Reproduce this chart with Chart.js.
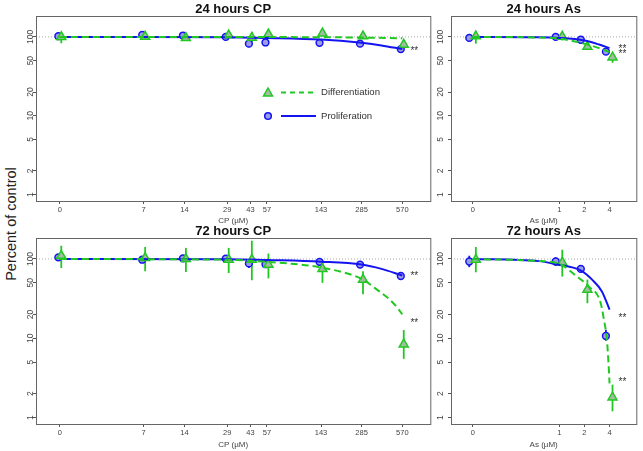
<!DOCTYPE html>
<html>
<head>
<meta charset="utf-8">
<script src="https://cdn.jsdelivr.net/npm/chart.js@4.4.0/dist/chart.umd.min.js"></script>
<style>
  body { margin: 0; background: #fff; width: 643px; height: 451px; position: relative; overflow: hidden;
         font-family: "Liberation Sans", Arial, sans-serif; }
  canvas { position: absolute; }
  #ylab { position: absolute; left: 11px; top: 224px; transform: translate(-50%, -50%) rotate(-90deg);
          font-size: 14.5px; white-space: nowrap; color: #222; }
</style>
</head>
<body>
<div id="ylab">Percent of control</div>
<canvas id="c1" width="437" height="226" style="left:0;top:0"></canvas>
<canvas id="c2" width="210" height="226" style="left:433px;top:0"></canvas>
<canvas id="c3" width="437" height="233" style="left:0;top:218px"></canvas>
<canvas id="c4" width="210" height="233" style="left:433px;top:218px"></canvas>
<script>
// doses and axis ticks
const cpDoses = [0, 7, 14, 29, 43, 57, 143, 285, 570];
const asDoses = [0, 1, 2, 4];
const yTicks = [1, 2, 5, 10, 20, 50, 100];

// 24 hours CP
const cp24Prolif   = [102, 106, 104, 100, 82, 85, 84, 82, 70];
const cp24ProlifLo = [99, 103, 101, 97, 74, 82, 81, 79, 67];
const cp24ProlifHi = [105, 109, 107, 103, 88, 88, 87, 85, 73];
const cp24Diff     = [100, 101, 97, 105, 98, 108, 111, 102, 80];
const cp24DiffLo   = [83, 95, 92, 100, 86, 103, 106, 97, 75];
const cp24DiffHi   = [108, 106, 102, 110, 116, 113, 116, 107, 85];
const cp24ProlifFitX = [0, 7, 29, 57, 143, 285, 400, 570];
const cp24ProlifFitY = [100, 100, 99, 97, 92.5, 84, 78, 70];
const cp24DiffFitX = [0, 57, 143, 285, 570];
const cp24DiffFitY = [100, 99.5, 99, 98, 96];

// 24 hours As
const as24Prolif   = [97, 100, 92, 65];
const as24ProlifLo = [93, 96, 88, 61];
const as24ProlifHi = [101, 104, 96, 69];
const as24Diff     = [102, 101, 75, 55];
const as24DiffLo   = [82, 90, 68, 47];
const as24DiffHi   = [116, 110, 82, 62];
const as24ProlifFitX = [0, 0.5, 1, 2, 3, 4];
const as24ProlifFitY = [100, 99, 97, 90, 80, 72];
const as24DiffFitX = [0, 0.5, 1, 2, 3, 4];
const as24DiffFitY = [100, 98.5, 95, 82, 72, 64];

// 72 hours CP
const cp72Prolif   = [105, 98, 102, 101, 88, 86, 92, 85, 61];
const cp72ProlifLo = [100, 94, 98, 97, 77, 82, 88, 81, 58];
const cp72ProlifHi = [110, 102, 106, 105, 98, 90, 96, 89, 64];
const cp72Diff     = [110, 103, 100, 98, 98, 85, 75, 55, 8.4];
const cp72DiffLo   = [77, 70, 68.5, 66.5, 54, 57, 50, 36, 5.5];
const cp72DiffHi   = [147, 142, 138, 138, 170, 117, 96, 70, 12.7];
const cp72ProlifFitX = [0, 29, 57, 143, 285, 400, 570];
const cp72ProlifFitY = [100, 99.5, 97, 92.5, 85, 75, 62];
const cp72DiffFitX = [0, 29, 57, 143, 285, 386, 458, 527, 570];
const cp72DiffFitY = [100, 98, 92, 78, 56, 39, 31, 24, 20];

// 72 hours As
const as72Prolif   = [93, 93, 75, 10.7];
const as72ProlifLo = [79, 82, 69, 9.3];
const as72ProlifHi = [110, 105, 83, 12.8];
const as72Diff     = [98, 90.5, 41, 1.8];
const as72DiffLo   = [68, 60, 27.7, 1.2];
const as72DiffHi   = [142, 131, 55, 2.6];
const as72ProlifFitX = [0, 0.57, 0.9, 1.8, 2.47, 3.24, 4];
const as72ProlifFitY = [100, 94, 86, 72, 55, 39, 23];
const as72DiffFitX = [0, 0.5, 1, 1.57, 2.25, 3.1, 3.4, 3.72, 3.89, 4];
const as72DiffFitY = [100, 95, 87, 62, 45, 29, 18, 9.5, 4.8, 2.7];

// significance marks [dose, percent]
const starsCp24 = [[700, 65]];
const starsAs24 = [[5.7, 70], [5.7, 60]];
const starsCp72 = [[700, 60], [700, 15.6]];
const starsAs72 = [[5.7, 18], [5.7, 2.8]];

const BLUE = '#1414f0';
const GREEN = '#22c822';
const FONT = '"Liberation Sans", Arial, sans-serif';

// dose 0 cannot sit on a log axis, so it gets its own spot left of the first dose
const CP_ZERO = 1.68;
const AS_ZERO = 0.092;

function pts(doses, vals, zero, jitter) {
    return doses.map((d, i) => ({ x: (d === 0 ? zero : d) * jitter, y: vals[i] }));
}

const panelPlugin = {
    id: 'panel',
    beforeDatasetsDraw(chart) {
        const { ctx, chartArea: a, scales: { x, y } } = chart;
        ctx.save();
        const y100 = y.getPixelForValue(100);
        ctx.strokeStyle = '#aaa';
        ctx.lineWidth = 1;
        ctx.setLineDash([1, 2]);
        ctx.beginPath();
        ctx.moveTo(a.left, y100);
        ctx.lineTo(a.right, y100);
        ctx.stroke();
        ctx.setLineDash([]);
        // error bars
        chart.data.datasets.forEach(ds => {
            if (!ds.errLo) return;
            ctx.strokeStyle = ds.borderColor;
            ctx.lineWidth = 1.8;
            ds.data.forEach((p, j) => {
                const px = x.getPixelForValue(p.x);
                ctx.beginPath();
                ctx.moveTo(px, y.getPixelForValue(ds.errLo[j]));
                ctx.lineTo(px, y.getPixelForValue(ds.errHi[j]));
                ctx.stroke();
            });
        });
        ctx.restore();
    },
    afterDraw(chart, args, opts) {
        const { ctx, chartArea: a, scales: { x, y } } = chart;
        ctx.save();
        // box
        ctx.strokeStyle = '#666';
        ctx.lineWidth = 1;
        ctx.strokeRect(a.left + 0.5, a.top + 0.5, a.right - a.left, a.bottom - a.top);
        // y tick labels, rotated like R
        ctx.fillStyle = '#444';
        ctx.font = '8.5px ' + FONT;
        ctx.textAlign = 'center';
        ctx.textBaseline = 'middle';
        yTicks.forEach(v => {
            ctx.save();
            ctx.translate(a.left - opts.labelGap, y.getPixelForValue(v));
            ctx.rotate(-Math.PI / 2);
            ctx.fillText(String(v), 0, 0);
            ctx.restore();
        });
        // title
        ctx.fillStyle = '#111';
        ctx.font = 'bold 13px ' + FONT;
        ctx.fillText(opts.title, (a.left + a.right) / 2, opts.titleY);
        // stars
        ctx.fillStyle = '#333';
        ctx.font = '10px ' + FONT;
        opts.stars.forEach(s => ctx.fillText('**', x.getPixelForValue(s[0]), y.getPixelForValue(s[1])));
        // legend
        if (opts.legend) {
            const lx = 268, ly1 = 92.5, ly2 = 116;
            ctx.lineWidth = 1.5;
            ctx.fillStyle = '#a4bca4';
            ctx.strokeStyle = GREEN;
            ctx.beginPath();
            ctx.moveTo(lx, ly1 - 4.5);
            ctx.lineTo(lx + 4.5, ly1 + 3.5);
            ctx.lineTo(lx - 4.5, ly1 + 3.5);
            ctx.closePath();
            ctx.fill();
            ctx.stroke();
            ctx.lineWidth = 2;
            ctx.setLineDash([5, 4]);
            ctx.beginPath();
            ctx.moveTo(281, ly1);
            ctx.lineTo(316, ly1);
            ctx.stroke();
            ctx.setLineDash([]);
            ctx.fillStyle = '#9c9ce6';
            ctx.strokeStyle = BLUE;
            ctx.lineWidth = 1.5;
            ctx.beginPath();
            ctx.arc(lx, ly2, 3.3, 0, Math.PI * 2);
            ctx.fill();
            ctx.stroke();
            ctx.lineWidth = 2;
            ctx.beginPath();
            ctx.moveTo(281, ly2);
            ctx.lineTo(316, ly2);
            ctx.stroke();
            ctx.fillStyle = '#333';
            ctx.font = '9.6px ' + FONT;
            ctx.textAlign = 'left';
            ctx.fillText('Differentiation', 321, ly1);
            ctx.fillText('Proliferation', 321, ly2);
        }
        ctx.restore();
    }
};

function makePanel(id, cfg) {
    const zero = cfg.zero;
    const datasets = [
        {
            data: pts(cfg.diffFitX, cfg.diffFitY, zero, 1),
            showLine: true, borderColor: GREEN, borderWidth: 2, borderDash: [7, 4],
            pointRadius: 0, cubicInterpolationMode: 'monotone', order: 0
        },
        {
            data: pts(cfg.prolifFitX, cfg.prolifFitY, zero, 1),
            showLine: true, borderColor: BLUE, borderWidth: 2,
            pointRadius: 0, cubicInterpolationMode: 'monotone', order: 1
        },
        {
            data: pts(cfg.doses, cfg.diff, zero, cfg.jitter[1]),
            errLo: cfg.diffLo, errHi: cfg.diffHi,
            borderColor: GREEN, backgroundColor: '#a4bca4', pointStyle: 'triangle',
            pointRadius: 5.2, borderWidth: 1.5, order: 2
        },
        {
            data: pts(cfg.doses, cfg.prolif, zero, cfg.jitter[0]),
            errLo: cfg.prolifLo, errHi: cfg.prolifHi,
            borderColor: BLUE, backgroundColor: '#9c9ce6', pointStyle: 'circle',
            pointRadius: 3.4, borderWidth: 1.5, order: 3
        }
    ];

    return new Chart(document.getElementById(id), {
        type: 'scatter',
        data: { datasets: datasets },
        options: {
            responsive: false,
            animation: false,
            events: [],
            layout: { padding: cfg.padding },
            plugins: {
                legend: { display: false },
                tooltip: { enabled: false },
                panel: {
                    title: cfg.title, titleY: cfg.titleY, labelGap: cfg.labelGap,
                    stars: cfg.stars, legend: !!cfg.legend
                }
            },
            scales: {
                x: {
                    type: 'logarithmic',
                    min: cfg.xMin,
                    max: cfg.xMax,
                    afterBuildTicks: s => { s.ticks = cfg.doses.map(d => ({ value: d === 0 ? zero : d })); },
                    afterFit: s => { s.height = cfg.xHeight; },
                    ticks: {
                        autoSkip: false, maxRotation: 0, minRotation: 0, padding: 1,
                        color: '#444', font: { size: 7.5, family: FONT },
                        callback: (v, i) => String(cfg.doses[i])
                    },
                    grid: { drawOnChartArea: false, tickLength: 3, color: '#555' },
                    border: { display: false },
                    title: {
                        display: true, text: cfg.xTitle, padding: { top: 0, bottom: cfg.titlePad },
                        color: '#444', font: { size: 8, family: FONT }
                    }
                },
                y: {
                    type: 'logarithmic',
                    min: 0.83,
                    max: 184,
                    afterBuildTicks: s => { s.ticks = yTicks.map(v => ({ value: v })); },
                    afterFit: s => { s.width = cfg.yWidth; },
                    ticks: { display: false },
                    grid: { drawOnChartArea: false, tickLength: 3, color: '#555' },
                    border: { display: false }
                }
            }
        },
        plugins: [panelPlugin]
    });
}

makePanel('c1', {
    title: '24 hours CP', titleY: 9, xTitle: 'CP (\u00b5M)', legend: true,
    doses: cpDoses, zero: CP_ZERO, xMin: 1.12, xMax: 918, jitter: [0.975, 1.025],
    prolif: cp24Prolif, prolifLo: cp24ProlifLo, prolifHi: cp24ProlifHi,
    diff: cp24Diff, diffLo: cp24DiffLo, diffHi: cp24DiffHi,
    prolifFitX: cp24ProlifFitX, prolifFitY: cp24ProlifFitY,
    diffFitX: cp24DiffFitX, diffFitY: cp24DiffFitY, stars: starsCp24,
    padding: { top: 16, right: 2, left: 0, bottom: 0 }, yWidth: 36, xHeight: 25, titlePad: 0, labelGap: 5.5
});

makePanel('c2', {
    title: '24 hours As', titleY: 9, xTitle: 'As (\u00b5M)',
    doses: asDoses, zero: AS_ZERO, xMin: 0.0503, xMax: 8.37, jitter: [0.905, 1.085],
    prolif: as24Prolif, prolifLo: as24ProlifLo, prolifHi: as24ProlifHi,
    diff: as24Diff, diffLo: as24DiffLo, diffHi: as24DiffHi,
    prolifFitX: as24ProlifFitX, prolifFitY: as24ProlifFitY,
    diffFitX: as24DiffFitX, diffFitY: as24DiffFitY, stars: starsAs24,
    padding: { top: 16, right: 3, left: 0, bottom: 0 }, yWidth: 18, xHeight: 25, titlePad: 0, labelGap: 10
});

makePanel('c3', {
    title: '72 hours CP', titleY: 13.7, xTitle: 'CP (\u00b5M)',
    doses: cpDoses, zero: CP_ZERO, xMin: 1.12, xMax: 918, jitter: [0.975, 1.025],
    prolif: cp72Prolif, prolifLo: cp72ProlifLo, prolifHi: cp72ProlifHi,
    diff: cp72Diff, diffLo: cp72DiffLo, diffHi: cp72DiffHi,
    prolifFitX: cp72ProlifFitX, prolifFitY: cp72ProlifFitY,
    diffFitX: cp72DiffFitX, diffFitY: cp72DiffFitY, stars: starsCp72,
    padding: { top: 20, right: 2, left: 0, bottom: 0 }, yWidth: 36, xHeight: 27, titlePad: 1.6, labelGap: 5.5
});

makePanel('c4', {
    title: '72 hours As', titleY: 13.7, xTitle: 'As (\u00b5M)',
    doses: asDoses, zero: AS_ZERO, xMin: 0.0503, xMax: 8.37, jitter: [0.905, 1.085],
    prolif: as72Prolif, prolifLo: as72ProlifLo, prolifHi: as72ProlifHi,
    diff: as72Diff, diffLo: as72DiffLo, diffHi: as72DiffHi,
    prolifFitX: as72ProlifFitX, prolifFitY: as72ProlifFitY,
    diffFitX: as72DiffFitX, diffFitY: as72DiffFitY, stars: starsAs72,
    padding: { top: 20, right: 3, left: 0, bottom: 0 }, yWidth: 18, xHeight: 27, titlePad: 1.6, labelGap: 10
});
</script>
</body>
</html>
